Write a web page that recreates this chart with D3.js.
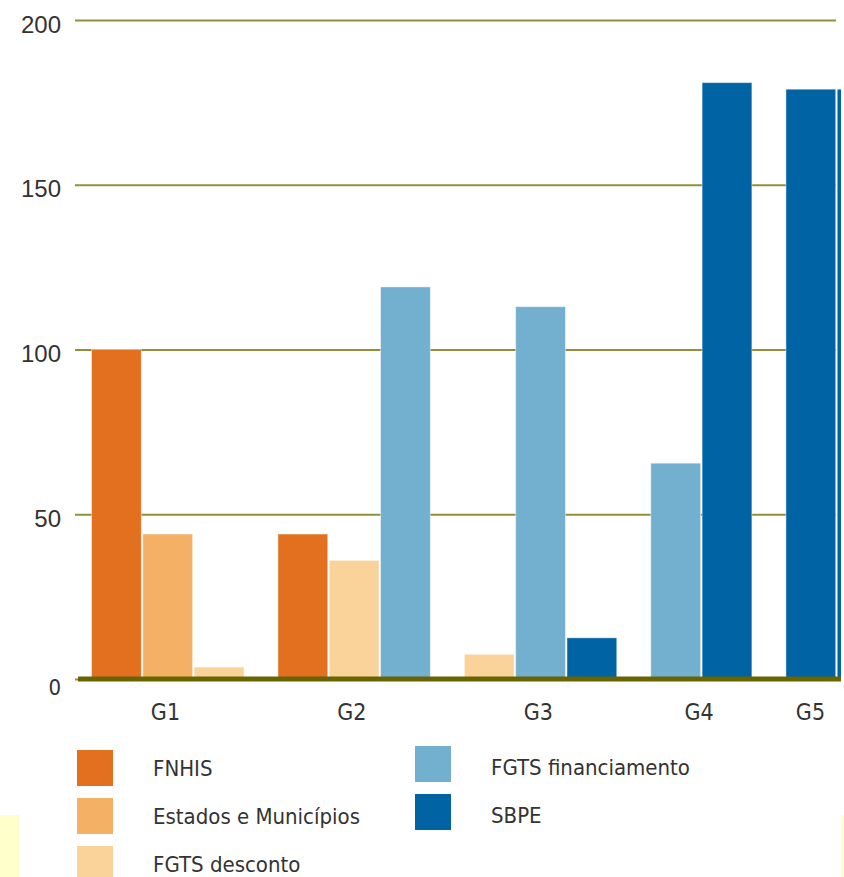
<!DOCTYPE html>
<html lang="pt">
<head>
	<meta charset="UTF-8">
	<script type="text/javascript" src="https://d3js.org/d3.v7.min.js"></script>
	<title>Fontes de financiamento por grupo</title>
	<style>
		body{
			margin: 0;
			background: #ffffff;
		}
		.ylab text{
			font-family: "Liberation Sans", Arial, sans-serif;
			font-size: 24px;
			fill: #333333;
		}
		.xlab, .legend text{
			font-family: "DejaVu Sans Condensed", "DejaVu Sans", sans-serif;
			fill: #333333;
		}
		.xlab{
			font-size: 23px;
		}
		.legend text{
			font-size: 22px;
		}
	</style>
</head>
<body>
<script type="text/javascript">
	// data
	const groups = ["G1", "G2", "G3", "G4", "G5"];
	const series = ["FNHIS", "Estados e Municípios", "FGTS desconto", "FGTS financiamento", "SBPE"];
	const colors = ["#E2701E", "#F4B065", "#F9D399", "#73AFCE", "#0064A4"];
	const yTicks = [0, 50, 100, 150, 200];
	// one entry per bar, in drawing order
	const barGroup  = ["G1", "G1", "G1", "G2", "G2", "G2", "G3", "G3", "G3", "G4", "G4", "G5", "G5"];
	const barSeries = ["FNHIS", "Estados e Municípios", "FGTS desconto",
		"FNHIS", "FGTS desconto", "FGTS financiamento",
		"FGTS desconto", "FGTS financiamento", "SBPE",
		"FGTS financiamento", "SBPE",
		"SBPE", "SBPE"];
	const barValue  = [100, 44, 3.6, 44, 36, 119, 7.5, 113, 12.5, 65.5, 181, 179, 179];

	const W = 844, H = 877;
	const svg = d3.select("body")
		.append("svg")
		.attr("width", W)
		.attr("height", H);

	const plotLeft = 75, plotRight = 836, clipRight = 841,
		y0 = 679, yTop = 20;

	// bars sit on slots of one unit; each new group adds a gap
	const gapUnits = 0.634, leadUnits = 0.322, unitPx = 51.3;
	let bars = [], slot = 0;
	barGroup.forEach(function (g, i) {
		if (i > 0 && g !== barGroup[i - 1]) slot += gapUnits;
		bars.push({group: g, series: barSeries[i], value: barValue[i], pos: slot});
		slot += 1;
	});

	const x = d3.scaleLinear()
		.domain([-leadUnits, slot])
		.range([plotLeft, plotLeft + (slot + leadUnits) * unitPx]);
	const y = d3.scaleLinear().domain([0, 200]).range([y0, yTop]);
	const color = d3.scaleOrdinal().domain(series).range(colors);

	svg.append("defs")
		.append("clipPath").attr("id", "plotclip")
		.append("rect")
		.attr("x", 0).attr("y", 0)
		.attr("width", clipRight).attr("height", H);

	// y axis: labels + gridlines
	svg.append("g")
		.attr("class", "ylab")
		.attr("transform", "translate(" + plotLeft + ",0)")
		.call(d3.axisLeft(y).tickValues(yTicks).tickSize(-(plotRight - plotLeft)).tickPadding(14))
		.call(function (g) { g.select(".domain").remove(); })
		.call(function (g) {
			g.selectAll(".tick line")
				.attr("stroke", "#938F38")
				.attr("stroke-width", 2);
			g.selectAll(".tick text").attr("dy", "0.5em");
			g.selectAll(".tick").filter(function (d) { return d === 0; })
				.select("text")
				.style("font-family", "'DejaVu Sans Condensed', sans-serif")
				.style("font-size", "22px")
				.attr("dy", "0.72em");
		});

	const plot = svg.append("g").attr("clip-path", "url(#plotclip)");

	plot.selectAll(".bar")
		.data(bars)
		.enter()
		.append("rect")
		.attr("class", "bar")
		.attr("x", function (d) { return x(d.pos); })
		.attr("y", function (d) { return y(d.value); })
		.attr("width", x(1) - x(0) - 1.5)
		.attr("height", function (d) { return y(0) - y(d.value); })
		.attr("fill", function (d) { return color(d.series); })
		.attr("stroke", "#ffffff")
		.attr("stroke-opacity", 0.45)
		.attr("stroke-width", 1);

	// thick baseline
	plot.append("line")
		.attr("x1", plotLeft + 3).attr("x2", clipRight)
		.attr("y1", y(0)).attr("y2", y(0))
		.attr("stroke", "#686500")
		.attr("stroke-width", 5);

	// group labels, centred on the visible part of each group
	groups.forEach(function (g) {
		const gb = bars.filter(function (d) { return d.group === g; });
		const left = x(gb[0].pos);
		const right = Math.min(x(gb[gb.length - 1].pos + 1), clipRight);
		svg.append("text")
			.attr("class", "xlab")
			.attr("x", (left + right) / 2 - 3)
			.attr("y", 720)
			.attr("text-anchor", "middle")
			.text(g);
	});

	// legend, two columns
	const legend = svg.append("g").attr("class", "legend");
	series.forEach(function (s, i) {
		const col = i < 3 ? 0 : 1, row = i < 3 ? i : i - 3;
		const lx = col === 0 ? 77 : 415;
		const ly = (col === 0 ? 750 : 746) + row * 48;
		legend.append("rect")
			.attr("x", lx).attr("y", ly)
			.attr("width", 36).attr("height", 36)
			.attr("fill", color(s));
		legend.append("text")
			.attr("x", lx + 76)
			.attr("y", ly + (col === 0 ? 25.5 : 29))
			.text(s);
	});

	// pale yellow strips at the bottom corners
	svg.append("rect").attr("x", 0).attr("y", 815).attr("width", 19).attr("height", 62).attr("fill", "#FFFFCC");
	svg.append("rect").attr("x", 841).attr("y", 815).attr("width", 3).attr("height", 62).attr("fill", "#FFFFCC");
</script>

</body>
</html>
